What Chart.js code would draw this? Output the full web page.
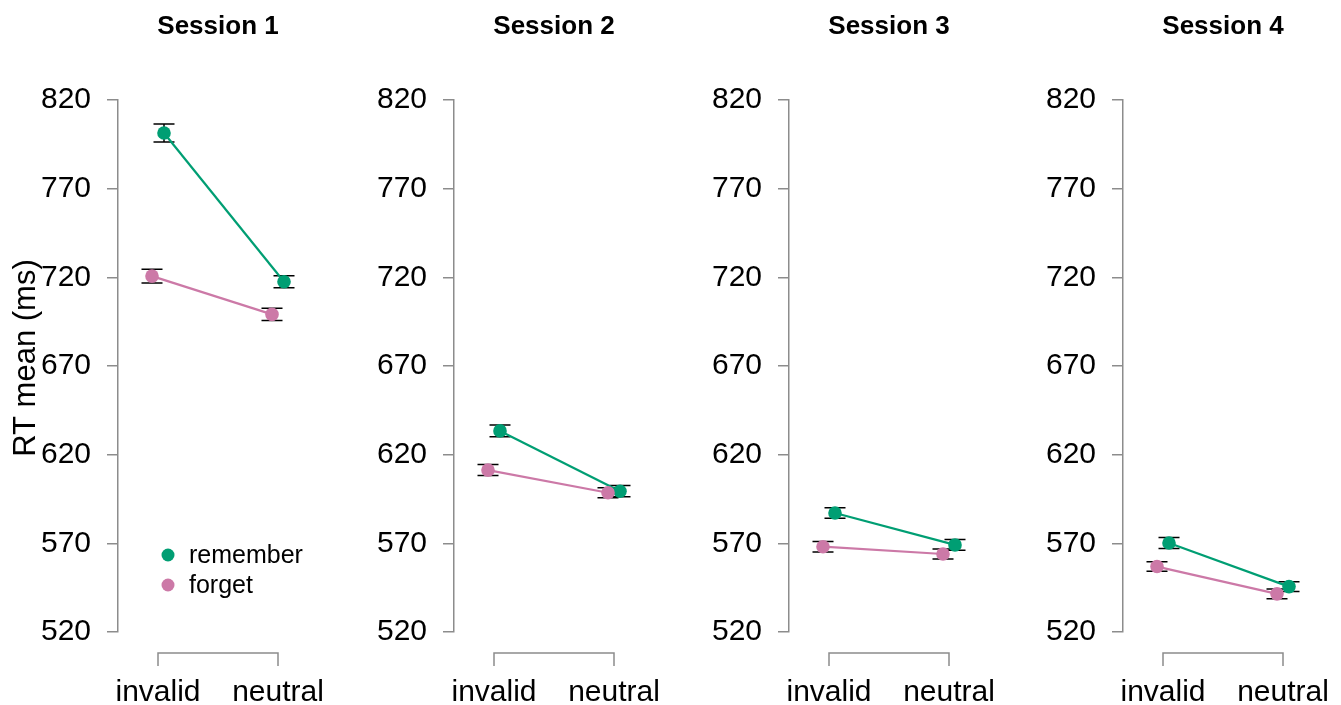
<!DOCTYPE html>
<html>
<head>
<meta charset="utf-8">
<script src="https://cdn.jsdelivr.net/npm/chart.js@4.4.1/dist/chart.umd.min.js"></script>
<style>
  html, body { margin: 0; padding: 0; background: #fff; }
  #wrap { position: relative; width: 1341px; height: 705px; overflow: hidden; }
  #wrap canvas { position: absolute; top: 0; }
</style>
</head>
<body>
<div id="wrap">
  <canvas id="p0" width="330" height="705" style="left:0px"></canvas>
  <canvas id="p1" width="330" height="705" style="left:336px"></canvas>
  <canvas id="p2" width="330" height="705" style="left:671px"></canvas>
  <canvas id="p3" width="330" height="705" style="left:1005px"></canvas>
</div>
<script>
// data
const sessions = ['Session 1', 'Session 2', 'Session 3', 'Session 4'];
const conditions = ['invalid', 'neutral'];
const yTicks = [520, 570, 620, 670, 720, 770, 820];

const rememberMean = [[801.4, 717.5], [633.4, 599.4], [587.1, 569.1], [570.2, 545.6]];
const rememberErr  = [[5.1, 3.4], [3.3, 3.2], [2.9, 3.0], [3.1, 2.8]];
const forgetMean   = [[720.7, 699.1], [611.3, 598.5], [568.1, 564.0], [556.9, 541.5]];
const forgetErr    = [[3.9, 3.4], [3.1, 2.8], [3.0, 2.8], [2.7, 2.7]];

const GREEN = '#009E73';
const PINK = '#CC79A7';
const AXIS = '#8c8c8c';
const FONT = "'Liberation Sans', Arial, sans-serif";
const DODGE = 0.05;

// error bars, x bracket, legend, y label
const extras = {
  id: 'extras',
  beforeDatasetsDraw(chart) {
    const { ctx, scales: { x, y } } = chart;
    ctx.save();
    ctx.strokeStyle = '#000';
    ctx.lineWidth = 1.5;
    chart.data.datasets.forEach(ds => {
      ds.data.forEach((pt, i) => {
        const px = x.getPixelForValue(pt.x);
        const top = y.getPixelForValue(pt.y + ds.err[i]);
        const bot = y.getPixelForValue(pt.y - ds.err[i]);
        ctx.beginPath();
        ctx.moveTo(px, top); ctx.lineTo(px, bot);
        ctx.moveTo(px - 10.5, top); ctx.lineTo(px + 10.5, top);
        ctx.moveTo(px - 10.5, bot); ctx.lineTo(px + 10.5, bot);
        ctx.stroke();
      });
    });
    ctx.restore();
  },
  afterDraw(chart, args, opts) {
    const { ctx, chartArea, scales: { x } } = chart;
    const x1 = x.getPixelForValue(1), x2 = x.getPixelForValue(2);
    const ay = chartArea.bottom + 21;
    ctx.save();
    ctx.strokeStyle = AXIS;
    ctx.lineWidth = 1.5;
    ctx.beginPath();
    ctx.moveTo(x1, ay + 13); ctx.lineTo(x1, ay); ctx.lineTo(x2, ay); ctx.lineTo(x2, ay + 13);
    ctx.stroke();
    ctx.fillStyle = '#000';
    ctx.font = '30px ' + FONT;
    ctx.textAlign = 'center';
    ctx.textBaseline = 'alphabetic';
    conditions.forEach((c, i) => ctx.fillText(c, x.getPixelForValue(i + 1), 701));

    if (opts.first) {
      // legend
      ctx.font = '25px ' + FONT;
      ctx.textAlign = 'left';
      ctx.textBaseline = 'middle';
      [['remember', GREEN, 555], ['forget', PINK, 585]].forEach(([label, col, ly]) => {
        ctx.fillStyle = col;
        ctx.beginPath(); ctx.arc(168, ly, 6.5, 0, Math.PI * 2); ctx.fill();
        ctx.fillStyle = '#000';
        ctx.fillText(label, 189, ly + 1);
      });
      // y axis title
      ctx.save();
      ctx.translate(26, 358);
      ctx.rotate(-Math.PI / 2);
      ctx.textAlign = 'center';
      ctx.font = '31px ' + FONT;
      ctx.fillText('RT mean (ms)', 0, 0);
      ctx.restore();
    }
    ctx.restore();
  }
};

sessions.forEach((title, s) => {
  const mk = (label, col, means, errs, off) => ({
    label,
    data: means[s].map((v, i) => ({ x: i + 1 + off, y: v })),
    err: errs[s],
    borderColor: col,
    backgroundColor: col,
    borderWidth: 2.2,
    pointRadius: 6.8,
    pointBorderWidth: 0,
    pointBackgroundColor: col,
    tension: 0
  });
  new Chart(document.getElementById('p' + s), {
    type: 'line',
    data: {
      datasets: [
        mk('forget', PINK, forgetMean, forgetErr, -DODGE),
        mk('remember', GREEN, rememberMean, rememberErr, DODGE)
      ]
    },
    options: {
      responsive: false,
      animation: false,
      layout: { padding: { left: 0, right: 12, top: 0, bottom: 73 } },
      plugins: {
        legend: { display: false },
        tooltip: { enabled: false },
        title: {
          display: true, text: title, fullSize: false, color: '#000',
          font: { family: FONT, size: 26, weight: 'bold' },
          padding: { top: 11, bottom: 57.8 }
        },
        extras: { first: s === 0 }
      },
      scales: {
        x: { type: 'linear', min: 2 / 3, max: 7 / 3, display: false },
        y: {
          min: 520, max: 820,
          afterBuildTicks: sc => { sc.ticks = yTicks.map(v => ({ value: v })); },
          afterFit: sc => { sc.width = 118; },
          grid: { drawOnChartArea: false, color: AXIS, lineWidth: 1.5, tickLength: 11 },
          border: { color: AXIS, width: 1.5 },
          ticks: { color: '#000', padding: 16, font: { family: FONT, size: 30 } }
        }
      }
    },
    plugins: [extras]
  });
});
</script>
</body>
</html>
